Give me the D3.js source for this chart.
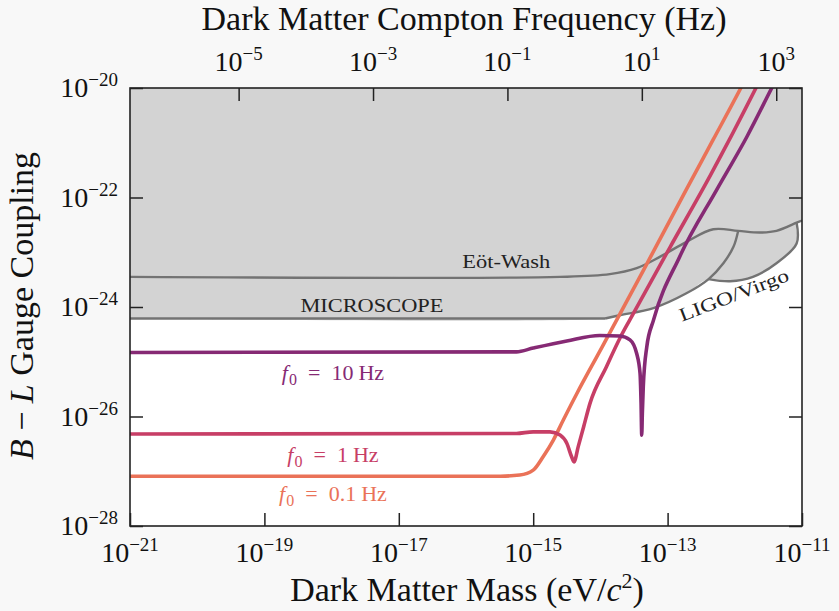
<!DOCTYPE html>
<html>
<head>
<meta charset="utf-8">
<script src="https://cdn.jsdelivr.net/npm/d3@7"></script>
<style>
  body { margin: 0; background: #f8f8f8; }
  svg { display: block; font-family: "Liberation Serif", "DejaVu Serif", serif; }
</style>
</head>
<body>
<div id="root"></div>
<script>
// every value below is log10 of the quantity (mass in eV, coupling dimensionless)
const massTicks = [-21, -19, -17, -15, -13, -11];
const couplingTicks = [-20, -22, -24, -26, -28];
const freqTicks = [-5, -3, -1, 1, 3];   // log10 Hz
const HZ_PER_EV = 2.418e14;

// existing bounds (grey region)
const eotWashMass     = [-21, -14.60, -13.86, -13.46, -13.11, -12.72, -12.32, -11.95, -11.63, -11.38, -11.08, -11.0];
const eotWashCoupling = [-23.45, -23.45, -23.40, -23.29, -23.08, -22.81, -22.58, -22.61, -22.64, -22.61, -22.46, -22.42];
const microscopeMass     = [-21, -13.93];
const microscopeCoupling = [-24.21, -24.21];
const ligoAMass     = [-13.93, -13.71, -13.21, -12.72, -12.39, -12.17, -12.02, -11.95];
const ligoACoupling = [-24.21, -24.15, -24.02, -23.75, -23.49, -23.20, -22.90, -22.61];
const ligoBMass     = [-12.39, -12.07, -11.73, -11.38, -11.08, -11.08];
const ligoBCoupling = [-23.49, -23.53, -23.45, -23.20, -22.84, -22.46];

// projected sensitivities
const f10Mass     = [-21, -15.25, -15.00, -14.50, -14.01, -13.71, -13.56, -13.46, -13.41, -13.395, -13.385, -13.376, -13.362, -13.31, -13.21, -12.82, -12.27, -11.82, -11.45, -11.24];
const f10Coupling = [-24.83, -24.82, -24.75, -24.62, -24.52, -24.53, -24.60, -24.85, -25.21, -25.75, -26.34, -25.95, -25.46, -24.73, -24.24, -23.08, -21.86, -20.89, -20.0, -19.5];
const f1Mass     = [-21, -15.25, -15.00, -14.75, -14.60, -14.50, -14.43, -14.393, -14.33, -14.25, -14.155, -13.91, -13.71, -13.56, -12.96, -12.37, -11.685, -11.47];
const f1Coupling = [-26.32, -26.31, -26.28, -26.28, -26.34, -26.49, -26.73, -26.83, -26.55, -26.19, -25.76, -25.09, -24.57, -24.23, -22.90, -21.61, -20.0, -19.47];
const f01Mass     = [-21, -15.49, -15.20, -15.00, -14.85, -14.70, -14.55, -14.35, -14.01, -13.36, -12.72, -12.32, -11.91, -11.70];
const f01Coupling = [-27.09, -27.09, -27.07, -26.98, -26.73, -26.43, -26.06, -25.58, -24.81, -23.33, -21.85, -20.94, -20.0, -19.5];

const w = 839, h = 611;
const plot = { left: 130, right: 802, top: 88, bottom: 526 };

const svg = d3.select('#root').append('svg')
  .attr('width', w).attr('height', h);

svg.append('rect').attr('width', w).attr('height', h).attr('fill', '#f8f8f8');

const x = d3.scaleLog().domain([1e-21, 1e-11]).range([plot.left, plot.right]);
const y = d3.scaleLog().domain([1e-28, 1e-20]).range([plot.bottom, plot.top]);
const xTop = d3.scaleLog().domain([1e-21 * HZ_PER_EV, 1e-11 * HZ_PER_EV]).range([plot.left, plot.right]);

const pts = (m, c) => d3.zip(m, c);
const smooth = d3.line()
  .x(d => x(10 ** d[0]))
  .y(d => y(10 ** d[1]))
  .curve(d3.curveCatmullRom.alpha(0.5));
const mono = d3.line()
  .x(d => x(10 ** d[0]))
  .y(d => y(10 ** d[1]))
  .curve(d3.curveMonotoneX);

svg.append('clipPath').attr('id', 'clip')
  .append('rect')
  .attr('x', plot.left).attr('y', plot.top)
  .attr('width', plot.right - plot.left).attr('height', plot.bottom - plot.top);

svg.append('rect')
  .attr('x', plot.left).attr('y', plot.top)
  .attr('width', plot.right - plot.left).attr('height', plot.bottom - plot.top)
  .attr('fill', '#fff');

const g = svg.append('g').attr('clip-path', 'url(#clip)');

// grey excluded region: everything above the tightest bound
const eot = pts(eotWashMass, eotWashCoupling);
const micro = pts(microscopeMass, microscopeCoupling);
const ligoA = pts(ligoAMass, ligoACoupling);
const ligoB = pts(ligoBMass, ligoBCoupling);
const edge = [
  ...micro.filter(d => d[0] < ligoA[0][0]),
  ...ligoA.filter(d => d[0] < ligoB[0][0]),
  ...ligoB,
  ...eot.filter(d => d[0] > ligoB[ligoB.length - 1][0])
];
g.append('path')
  .attr('d', smooth(edge) + `L${plot.right + 5},${plot.top - 5}L${plot.left - 5},${plot.top - 5}Z`)
  .attr('fill', '#d3d3d3');

[eot, micro, ligoA, ligoB].forEach(p => {
  g.append('path')
    .attr('d', smooth(p))
    .attr('fill', 'none')
    .attr('stroke', '#737373')
    .attr('stroke-width', 2.4)
    .attr('stroke-linejoin', 'round');
});

// bound labels
g.append('text')
  .attr('x', x(10 ** -15.4)).attr('y', y(10 ** -23.29))
  .attr('text-anchor', 'middle').attr('font-size', 19).attr('fill', '#222')
  .attr('textLength', 88).attr('lengthAdjust', 'spacingAndGlyphs')
  .text('Eöt-Wash');
g.append('text')
  .attr('x', x(10 ** -17.4)).attr('y', y(10 ** -24.09))
  .attr('text-anchor', 'middle').attr('font-size', 18).attr('fill', '#222')
  .attr('textLength', 143).attr('lengthAdjust', 'spacingAndGlyphs')
  .text('MICROSCOPE');
g.append('text')
  .attr('transform', `translate(${x(10 ** -11.98)},${y(10 ** -23.89)}) rotate(-21)`)
  .attr('text-anchor', 'middle').attr('font-size', 19).attr('fill', '#222')
  .attr('textLength', 116).attr('lengthAdjust', 'spacingAndGlyphs')
  .text('LIGO/Virgo');

// projected curves
const curves = [
  { m: f01Mass, c: f01Coupling, color: '#ea7258', label: '0.1', ly: -27.55 },
  { m: f1Mass, c: f1Coupling, color: '#c73e66', label: '1', ly: -26.83 },
  { m: f10Mass, c: f10Coupling, color: '#862a74', label: '10', ly: -25.33 }
];
curves.forEach(d => {
  g.append('path')
    .attr('d', mono(pts(d.m, d.c)))
    .attr('fill', 'none')
    .attr('stroke', d.color)
    .attr('stroke-width', 3.6)
    .attr('stroke-linejoin', 'round')
    .attr('stroke-linecap', 'round');
});
curves.forEach(d => {
  const t = g.append('text')
    .attr('x', x(10 ** -17.98)).attr('y', y(10 ** d.ly))
    .attr('text-anchor', 'middle').attr('font-size', 22).attr('fill', d.color);
  t.append('tspan').attr('font-style', 'italic').text('f');
  t.append('tspan').attr('font-size', 16).attr('dx', 1).attr('dy', 5).text('0');
  t.append('tspan').attr('dx', 11).attr('dy', -5).text('=');
  t.append('tspan').attr('dx', 11).text(d.label);
  t.append('tspan').attr('dx', 5).text('Hz');
});

// frame
svg.append('rect')
  .attr('x', plot.left).attr('y', plot.top)
  .attr('width', plot.right - plot.left).attr('height', plot.bottom - plot.top)
  .attr('fill', 'none').attr('stroke', '#222').attr('stroke-width', 1.6);

// ticks (inward)
const tick = 13;
function styleAxis(sel) {
  sel.select('.domain').remove();
  sel.selectAll('.tick line').attr('stroke', '#222').attr('stroke-width', 1.5);
  sel.selectAll('.tick text').remove();
}
svg.append('g').attr('transform', `translate(0,${plot.bottom})`)
  .call(d3.axisBottom(x).tickValues(massTicks.map(e => 10 ** e)).tickSizeInner(-tick).tickSizeOuter(0))
  .call(styleAxis);
svg.append('g').attr('transform', `translate(0,${plot.top})`)
  .call(d3.axisTop(xTop).tickValues(freqTicks.map(e => 10 ** e)).tickSizeInner(-tick).tickSizeOuter(0))
  .call(styleAxis);
svg.append('g').attr('transform', `translate(${plot.left},0)`)
  .call(d3.axisLeft(y).tickValues(couplingTicks.map(e => 10 ** e)).tickSizeInner(-tick).tickSizeOuter(0))
  .call(styleAxis);
svg.append('g').attr('transform', `translate(${plot.right},0)`)
  .call(d3.axisRight(y).tickValues(couplingTicks.map(e => 10 ** e)).tickSizeInner(-tick).tickSizeOuter(0))
  .call(styleAxis);

// power-of-ten tick labels
function powLabel(px, py, e, anchor) {
  const t = svg.append('text')
    .attr('x', px).attr('y', py)
    .attr('text-anchor', anchor).attr('font-size', 28).attr('fill', '#111');
  t.append('tspan').text('10');
  t.append('tspan').attr('dy', -11).attr('font-size', 19)
    .text(e < 0 ? '\u2212' + Math.abs(e) : String(e));
}
massTicks.forEach(e => powLabel(x(10 ** e), 562, e, 'middle'));
freqTicks.forEach(e => powLabel(xTop(10 ** e), 71, e, 'middle'));
couplingTicks.forEach(e => powLabel(118, y(10 ** e) + 9, e, 'end'));

// axis titles
const bt = svg.append('text')
  .attr('x', 467).attr('y', 601)
  .attr('text-anchor', 'middle').attr('font-size', 34).attr('fill', '#111');
bt.append('tspan').text('Dark Matter Mass (eV/');
bt.append('tspan').attr('font-style', 'italic').text('c');
bt.append('tspan').attr('font-size', 22).attr('dy', -13).text('2');
bt.append('tspan').attr('dy', 13).text(')');

svg.append('text')
  .attr('x', 464).attr('y', 30)
  .attr('text-anchor', 'middle').attr('font-size', 34).attr('fill', '#111')
  .text('Dark Matter Compton Frequency (Hz)');

const lt = svg.append('text')
  .attr('transform', 'translate(33,306) rotate(-90)')
  .attr('text-anchor', 'middle').attr('font-size', 34).attr('fill', '#111');
lt.append('tspan').attr('font-style', 'italic').text('B');
lt.append('tspan').text(' \u2212 ');
lt.append('tspan').attr('font-style', 'italic').text('L');
lt.append('tspan').text(' Gauge Coupling');
</script>
</body>
</html>
